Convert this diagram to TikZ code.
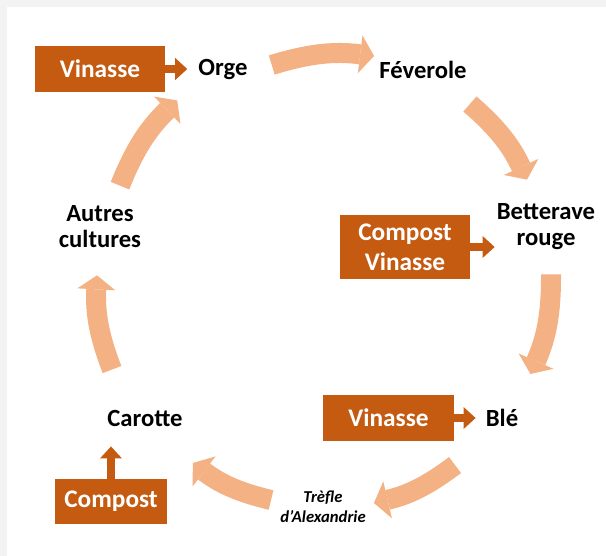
\documentclass[tikz,border=0pt]{standalone}
\usepackage{fontspec}
\setmainfont{Carlito}
\usepackage{xcolor}
\usetikzlibrary{arrows.meta}
\definecolor{boxorange}{HTML}{C55A11}
\definecolor{arrowpeach}{HTML}{F4B183}
\definecolor{framegray}{HTML}{F3F3F3}

\tikzset{
  crop/.style={inner sep=0pt, align=center, font=\bfseries\fontsize{18.5}{19.5}\selectfont},
  feedbox/.style={fill=boxorange, text=white, inner sep=0pt, align=center,
    minimum width=97.5pt, minimum height=34.5pt, font=\bfseries\fontsize{19}{22.5}\selectfont},
  rot arrow/.style={color=arrowpeach, line width=15pt,
    -{Triangle[width=28.5pt,length=10.5pt,line width=0pt]}},
  feed arrow/.style={color=boxorange, line width=6pt,
    -{Triangle[width=16.5pt,length=9pt,line width=0pt]}},
}

\begin{document}
\begin{tikzpicture}[x=0.75pt, y=-0.75pt]
  % frame
  \fill[framegray] (0,0) rectangle (606,556);
  \fill[white] (7,7) rectangle (606,556);
  \useasboundingbox (0,0) rectangle (606,556);

  % crops of the rotation
  \node[crop] (orge) at (223,70) {Orge};
  \node[crop] (fev) at (423,70) {Féverole};
  \node[crop] (bett) at (546,227) {Betterave\\rouge};
  \node[crop] (ble) at (502,418) {Blé};
  \node[crop, font=\bfseries\itshape\fontsize{12.5}{15}\selectfont] (trefle) at (323,507) {Trèfle\\d’Alexandrie};
  \node[crop] (carotte) at (145,418) {Carotte};
  \node[crop] (autres) at (100,227) {Autres\\cultures};

  % inputs
  \node[feedbox] (v1) at (100,69) {Vinasse};
  \node[feedbox, minimum height=48pt] (cv) at (405,247) {Compost\\Vinasse};
  \node[feedbox, minimum width=98.25pt] (v3) at (388.5,418) {Vinasse};
  \node[feedbox, minimum width=84pt, minimum height=33.75pt] (compost) at (111,501.5) {Compost};

  \draw[feed arrow, shorten >=8.25pt] (v1.east) -- (v1.east -| orge.west);
  \draw[feed arrow, shorten >=1.5pt] (cv.east) -- (cv.east -| bett.west);
  \draw[feed arrow, shorten >=7.5pt] (v3.east) -- (v3.east -| ble.west);
  \draw[feed arrow, shorten >=15pt] (compost.north) -- (compost.north |- carotte.south);

  % rotation arrows
  \draw[rot arrow] ([shift={(24,-5)}]orge.east) to[bend left=12] ([shift={(-5,-14)}]fev.west);
  \draw[rot arrow] ([shift={(3,34)}]fev.east) to[bend left=12] ([shift={(-19,-24)}]bett.north);
  \draw[rot arrow] ([shift={(5,24)}]bett.south) to[bend left=12] ([shift={(12,-35)}]ble.north east);
  \draw[rot arrow] ([shift={(-47,38)}]ble.south) to[bend left=12] ([shift={(8,-4)}]trefle.east);
  \draw[rot arrow] ([shift={(-9,-7)}]trefle.west) to[bend left=12] ([shift={(10,45)}]carotte.east);
  \draw[rot arrow] ([shift={(-33,-40)}]carotte.north) to[bend left=12] ([shift={(-3,27)}]autres.south);
  \draw[rot arrow] ([shift={(20,-20)}]autres.north) to[bend left=12] ([shift={(-21,20)}]orge.south west);
\end{tikzpicture}
\end{document}
